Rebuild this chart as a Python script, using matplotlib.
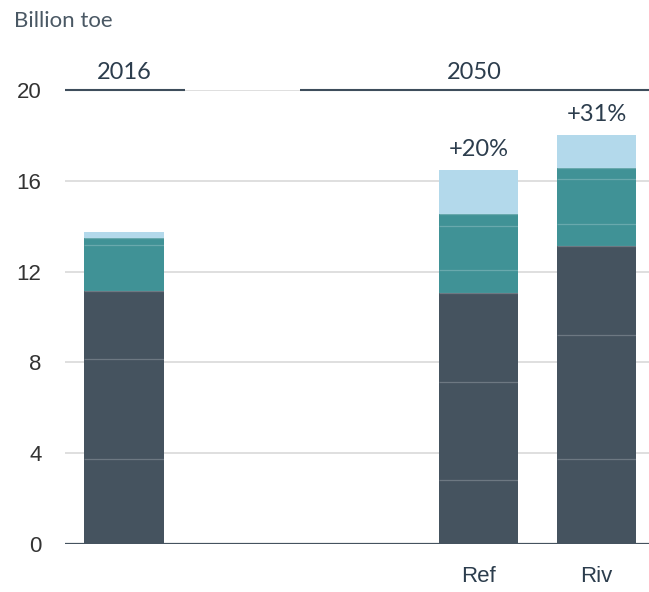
import matplotlib
matplotlib.use("Agg")
import matplotlib.pyplot as plt
import numpy as np

# ---- data (billion toe) ----
categories = ["2016", "Ref", "Riv"]
positions = [0, 3, 4]
tick_labels = ["", "Ref", "Riv"]
fossil_a = [3.74, 2.81, 3.73]
fossil_b = [4.40, 4.33, 5.48]
fossil_c = [2.99, 3.93, 3.93]
lowc_a = [2.03, 0.99, 0.94]
lowc_b = [0.00, 1.94, 2.00]
lowc_c = [0.32, 0.54, 0.47]
renew = [0.26, 1.94, 1.48]
growth_labels = ["", "+20%", "+31%"]
y_ticks = [0, 4, 8, 12, 16, 20]
headers = ["2016", "2050"]
header_spans = [(-0.5, 0.52), (1.49, 4.45)]

DARK = "#45535f"
TEAL = "#409296"
LIGHT = "#b3d9eb"
TXT = "#2c3d4d"

series = [(fossil_a, DARK), (fossil_b, DARK), (fossil_c, DARK),
          (lowc_a, TEAL), (lowc_b, TEAL), (lowc_c, TEAL), (renew, LIGHT)]

fig = plt.figure(figsize=(6.49, 5.92), dpi=100)
ax = fig.add_axes([65/649, 1-544/592, (649-65)/649, (544-90)/592])
ax.set_xlim(-0.5, 4.445)
ax.set_ylim(0, 20)

width = 0.67
bottoms = np.zeros(len(positions))
for vals, col in series:
    v = np.array(vals)
    ax.bar(positions, v, width=width, bottom=bottoms, color=col,
           edgecolor="none", linewidth=0, zorder=2)
    bottoms = bottoms + v
totals = bottoms

# thin separators between segments
cum = np.zeros(len(positions))
for i, (vals, col) in enumerate(series[:-1]):
    cum = cum + np.array(vals)
    for j, p in enumerate(positions):
        if vals[j] > 0:
            ax.hlines(cum[j], p - width/2, p + width/2, color="white",
                      alpha=0.22, lw=0.9, zorder=3)

# gridlines
for y in y_ticks[1:]:
    ax.axhline(y, color="#dcdcdc", lw=1.3, zorder=1)
ax.axhline(0, color=DARK, lw=1.6, zorder=4)

# header lines and labels
for (x0, x1), h in zip(header_spans, headers):
    ax.hlines(20, x0, x1, color="#3e4d5b", lw=1.5, zorder=2, clip_on=False)
    ax.text((x0 + x1) / 2 if h == "2050" else 0, 20.33, h, ha="center",
            va="bottom", fontsize=17, family="Lato", color=TXT)

# growth labels
for p, t, lab in zip(positions, totals, growth_labels):
    if lab:
        ax.text(p, t + 0.45, lab, ha="center", va="bottom",
                fontsize=17, family="Lato", color=TXT)

for s in ax.spines.values():
    s.set_visible(False)
ax.set_yticks(y_ticks)
ax.set_yticklabels([str(v) for v in y_ticks], family="Liberation Sans",
                   fontsize=16, color="#333333")
ax.set_xticks(positions)
ax.set_xticklabels(tick_labels, family="Liberation Sans", fontsize=16,
                   color=TXT)
ax.tick_params(axis="y", length=0, pad=17)
ax.tick_params(axis="x", length=0, pad=16)

fig.text(14/649, 1-11/592, "Billion toe", ha="left", va="top",
         fontsize=16, family="Lato", color="#4a5864")

fig.savefig("out.png", dpi=100)
